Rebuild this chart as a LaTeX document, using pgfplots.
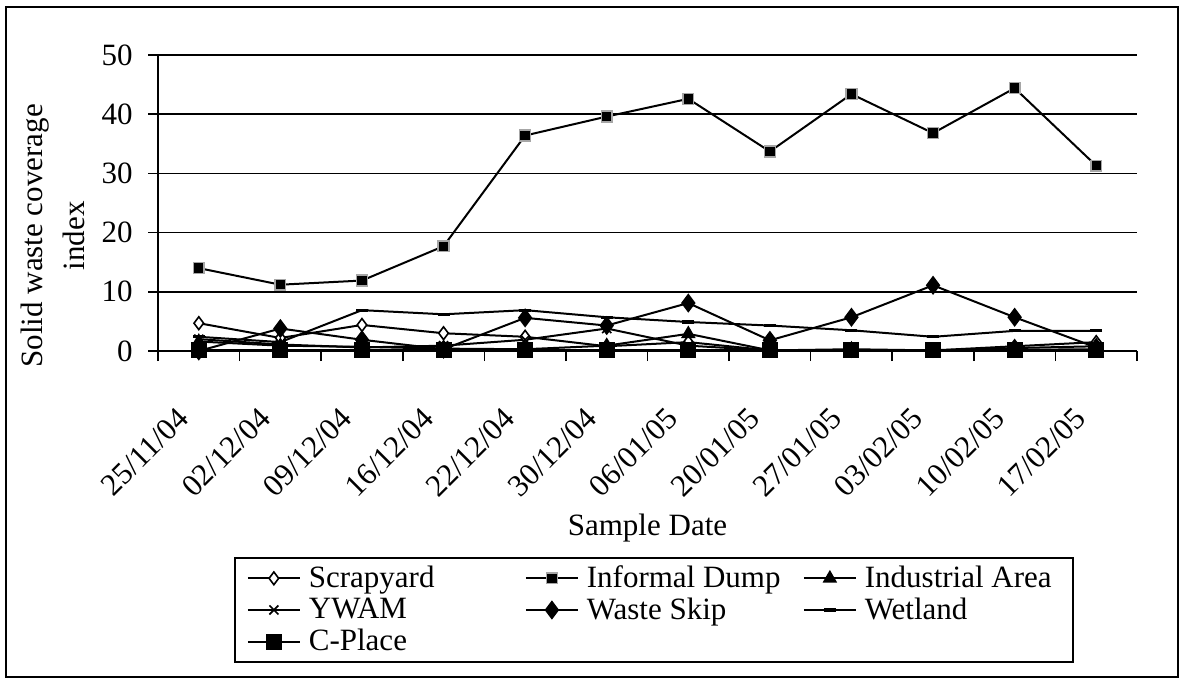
\documentclass[border=0pt]{standalone}
\usepackage{fontspec}
\setmainfont{Liberation Serif}
\usepackage{pgfplots}
\pgfplotsset{compat=1.18}
\usepackage{pgfplotstable}

% Solid waste coverage index per site and sampling date (idx = date number)
\pgfplotstableread{
idx scrap dump  indus ywam skip wet  cplace
0   4.7   14.0  1.6   2.0  0.0  2.4  0.1
1   2.2   11.2  0.9   1.1  3.8  1.5  0.1
2   4.4   11.9  0.7   0.6  1.9  6.9  0.1
3   3.0   17.7  0.4   0.9  0.3  6.2  0.1
4   2.4   36.4  0.3   1.9  5.6  6.9  0.1
5   0.8   39.6  0.9   3.8  4.3  5.7  0.1
6   1.5   42.6  2.9   0.9  8.1  4.9  0.1
7   0.1   33.7  0.1   0.1  1.8  4.3  0.1
8   0.1   43.4  0.3   0.1  5.7  3.5  0.1
9   0.1   36.8  0.1   0.1  11.1 2.4  0.1
10  0.8   44.4  0.5   0.2  5.7  3.4  0.1
11  1.5   31.3  0.8   0.3  0.6  3.4  0.1
}\wastedata

\newcommand{\chartfont}{\fontsize{15.5}{18.6}\selectfont}

\begin{document}
\begin{tikzpicture}[x=1pt,y=1pt]
\useasboundingbox (0,0) rectangle (590.5,340);
\draw[line width=1pt] (3,1.5) rectangle (589,336.5);
\begin{axis}[
  at={(79pt,164.5pt)}, anchor=south west,
  scale only axis, width=489.5pt, height=148pt,
  xmin=-0.5, xmax=11.5, ymin=0, ymax=50,
  clip=false,
  axis x line*=bottom, axis y line*=left,
  axis line style={line width=0.9pt},
  xtick={0,...,11},
  xticklabels={25/11/04,02/12/04,09/12/04,16/12/04,22/12/04,30/12/04,06/01/05,20/01/05,27/01/05,03/02/05,10/02/05,17/02/05},
  minor xtick={-0.5,0.5,...,11.5},
  ytick={0,10,...,50},
  minor ytick={0,10,...,50},
  major tick length=0pt,
  minor tick length=5pt,
  tick align=outside,
  tick style={black, line width=0.8pt},
  ymajorgrids,
  major grid style={black, line width=0.8pt},
  /pgf/number format/assume math mode=true,
  tick label style={font=\chartfont},
  xticklabel style={xshift=-11.5pt, yshift=-27pt, rotate=45, anchor=north east, inner sep=0pt},
  yticklabel style={anchor=east, inner sep=0pt, xshift=-12.5pt},
  xlabel={Sample Date},
  xlabel style={font=\chartfont, at={(axis description cs:0.5,-0.622)}, anchor=base},
  ylabel={Solid waste coverage\\index},
  ylabel style={font=\fontsize{15.5}{21}\selectfont, align=center, at={(axis description cs:-0.107,0.389)}, anchor=center},
  legend columns=3,
  legend cell align=left,
  legend style={at={(axis description cs:0.0776,-0.696)}, anchor=north west,
    draw=black, line width=0.9pt, font=\chartfont,
    inner xsep=6pt, inner ysep=3pt, row sep=1.5pt,
    nodes={inner xsep=4pt, inner ysep=1pt},
    /tikz/every even column/.append style={column sep=0pt}},
  legend image code/.code={\draw[mark repeat=2,mark phase=2,line width=1pt,#1] plot coordinates {(0pt,0pt) (13pt,0pt) (26pt,0pt)};},
  every axis plot/.append style={black, line width=1pt},
]
\addplot[mark=diamond*, mark size=3.2pt, mark options={fill=white, line width=0.8pt}] table[x=idx, y=scrap] \wastedata;
\addlegendentry{\makebox[104pt][l]{Scrapyard}}
\addplot[mark=square*, mark size=2.7pt, mark options={fill=black, draw=gray!70, line width=0.7pt}] table[x=idx, y=dump] \wastedata;
\addlegendentry{\makebox[104pt][l]{Informal Dump}}
\addplot[mark=triangle*, mark size=3.2pt, mark options={fill=black}] table[x=idx, y=indus] \wastedata;
\addlegendentry{\makebox[94pt][l]{Industrial Area}}
\addplot[mark=x, mark size=3.2pt, mark options={line width=0.8pt}] table[x=idx, y=ywam] \wastedata;
\addlegendentry{\makebox[104pt][l]{YWAM}}
\addplot[mark=diamond*, mark size=4pt, mark options={fill=black}] table[x=idx, y=skip] \wastedata;
\addlegendentry{\makebox[104pt][l]{Waste Skip}}
\addplot[mark=-, mark size=3pt, mark options={line width=1.6pt}] table[x=idx, y=wet] \wastedata;
\addlegendentry{Wetland}
\addplot[mark=square*, mark size=3.5pt, mark options={fill=black}] table[x=idx, y=cplace] \wastedata;
\addlegendentry{\makebox[104pt][l]{C-Place}}
\end{axis}
\end{tikzpicture}
\end{document}
